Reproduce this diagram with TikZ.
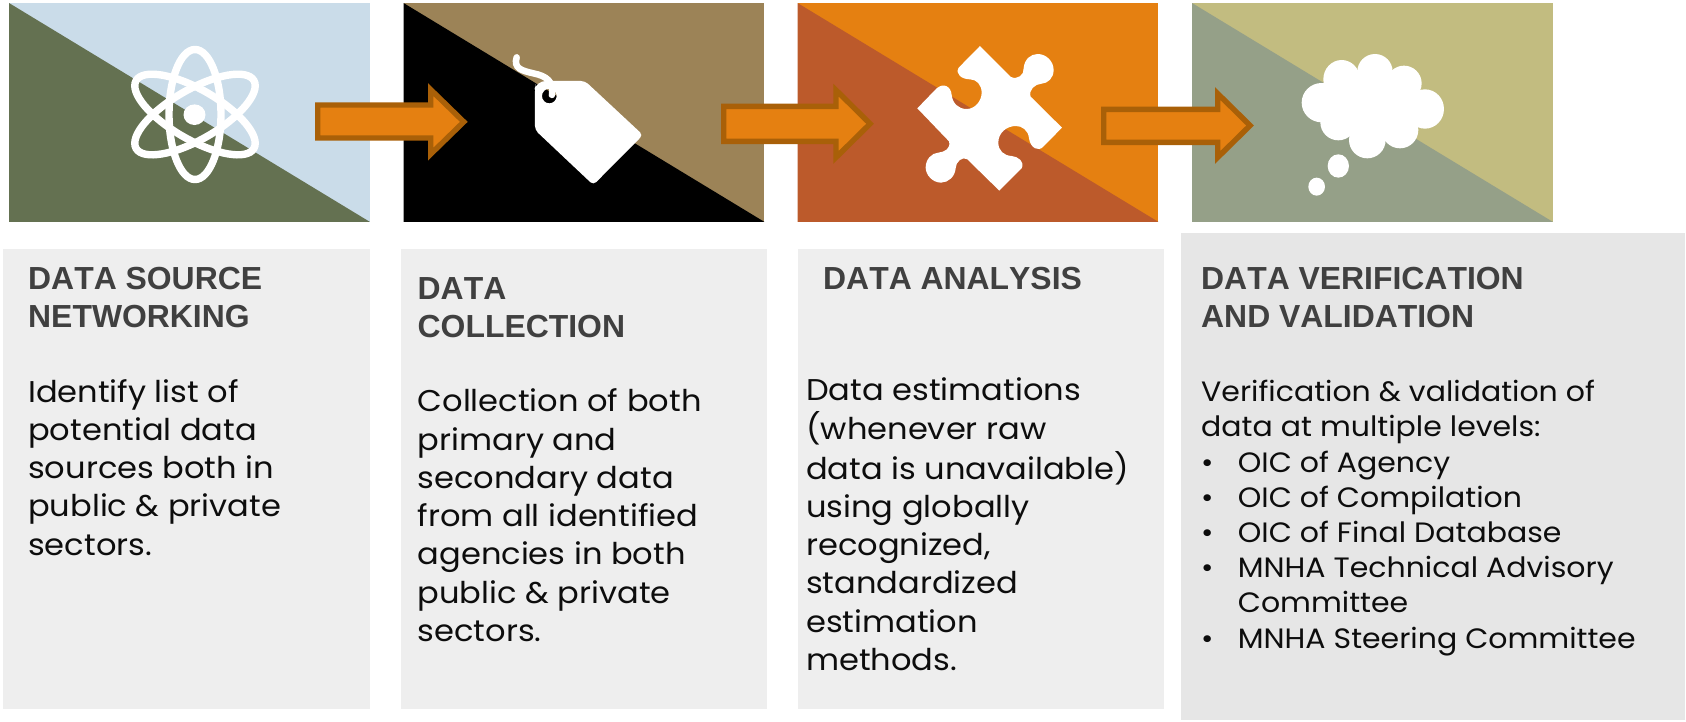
\documentclass[tikz,border=0pt]{standalone}
\usepackage{fontspec}
\setmainfont[FakeStretch=1.07]{Poppins}
\newfontfamily\titlefont[Kerning=Off]{Liberation Sans}
\definecolor{arrowfill}{HTML}{E58011}
\definecolor{arrowline}{HTML}{A96008}
\definecolor{titlegrey}{HTML}{404040}
\definecolor{bodyblack}{HTML}{0D0D0D}
\definecolor{lightA}{HTML}{CADCE9}
\definecolor{darkA}{HTML}{647151}
\definecolor{lightB}{HTML}{9C8357}
\definecolor{darkB}{HTML}{000000}
\definecolor{lightC}{HTML}{E58011}
\definecolor{darkC}{HTML}{BC5A2B}
\definecolor{lightD}{HTML}{C2BC80}
\definecolor{darkD}{HTML}{95A088}
\definecolor{boxgrey}{HTML}{EEEEEE}
\definecolor{boxgreyD}{HTML}{E6E6E6}
\tikzset{
  panel/.style={rectangle,inner sep=0pt,minimum width=360.5pt,minimum height=218.5pt,anchor=north west,fill=#1},
  textbox/.style={rectangle,inner sep=0pt,anchor=north west,fill=#1},
  heading/.style={inner sep=0pt,anchor=base west,text=titlegrey,font=\titlefont\bfseries\fontsize{31.9}{38.9}\selectfont},
  bodytext/.style={inner sep=0pt,anchor=base west,text=bodyblack,font=\fontsize{30}{38.3}\selectfont},
  listtext/.style={inner sep=0pt,anchor=base west,text=bodyblack,font=\fontsize{28}{35.2}\selectfont},
  blockarrow/.style={fill=arrowfill,draw=arrowline,line width=5.4pt,miter limit=10},
  icon/.style={fill=white,draw=none}
}
\newcommand{\blockarrow}[7]{% left, shaft top, shaft bottom, head x, head top, head bottom, tip x (outer edges)
  \pgfmathsetmacro{\mymid}{(#5+#6)/2}
  \draw[blockarrow] ({#1+2.7},{#2+2.7}) -- ({#4+2.7},{#2+2.7}) -- ({#4+2.7},{#5+6.6}) -- ({#7-3.9},\mymid) -- ({#4+2.7},{#6-6.6}) -- ({#4+2.7},{#3-2.7}) -- ({#1+2.7},{#3-2.7}) -- cycle;
}
\newcommand{\diagfill}[2]{\fill[#2] (#1.north west) -- (#1.south east) -- (#1.south west) -- cycle;}
\begin{document}
\begin{tikzpicture}[x=1pt,y=-1pt]
\path[use as bounding box] (0,0) rectangle (1686,721);
% panels
\node[panel=lightA] (panelA) at (9,3) {};
\diagfill{panelA}{darkA}
\node[panel=lightB] (panelB) at (403.5,3) {};
\diagfill{panelB}{darkB}
\node[panel=lightC] (panelC) at (797.5,3) {};
\diagfill{panelC}{darkC}
\node[panel=lightD] (panelD) at (1192,3) {};
\diagfill{panelD}{darkD}
% text boxes
\node[textbox=boxgrey,minimum width=367pt,minimum height=460pt] (boxA) at (3,249) {};
\node[textbox=boxgrey,minimum width=366pt,minimum height=460pt] (boxB) at (401,249) {};
\node[textbox=boxgrey,minimum width=366pt,minimum height=460pt] (boxC) at (798,249) {};
\node[textbox=boxgreyD,minimum width=504pt,minimum height=487pt] (boxD) at (1181,233) {};
% block arrows
\blockarrow{315}{102.3}{140.7}{428}{83}{160.7}{467.7}
\blockarrow{721}{103.7}{144}{833.3}{83.5}{164}{874}
\blockarrow{1101}{106.7}{145}{1215}{87}{164}{1254}
% atom icon
\begin{scope}[line width=7.4pt]
  \draw[white] (195,114.5) ellipse [x radius=26,y radius=65];
  \draw[white,rotate around={60:(195,114.5)}] (195,114.5) ellipse [x radius=25,y radius=68];
  \draw[white,rotate around={-60:(195,114.5)}] (195,114.5) ellipse [x radius=25,y radius=68];
\end{scope}
\fill[white] (194.5,114.7) ellipse [x radius=11,y radius=10.3];
% tag icon
\begin{scope}[xshift=400pt,x=0.3333pt,y=-0.3333pt]
  \draw[white,line width=6.5pt,line cap=round] (350,172) .. controls (340,205) and (365,212) .. (400,220) .. controls (440,228) and (462,245) .. (456,285);
  \fill[icon,even odd rule,rounded corners=4pt] (405,290) -- (405,262) [rounded corners=9pt] -- (410,243) [rounded corners=4pt] -- (555,243) -- (729,405) -- (580,555) -- (405,390) -- cycle
     [sharp corners] (448,288) circle [radius=22];
  \draw[white,line width=4pt] (458,268) -- (452,290);
\end{scope}
% puzzle icon
\begin{scope}[xshift=780pt,x=0.3333pt,y=-0.3333pt]
  \fill[icon] (600,138) -- (693,231) .. controls (712,240) and (733,225) .. (731,205)
    .. controls (733,178) and (752,162) .. (773,162)
    .. controls (800,162) and (821,185) .. (821,210)
    .. controls (821,235) and (803,250) .. (785,251)
    .. controls (765,252) and (745,270) .. (752,290)
    -- (846,383) -- (790,440) .. controls (775,456) and (752,445) .. (747,415)
    .. controls (745,390) and (725,378) .. (708,378)
    .. controls (680,378) and (655,398) .. (655,428)
    .. controls (655,452) and (672,467) .. (695,468)
    .. controls (715,470) and (735,485) .. (725,505)
    -- (658,572) -- (562,478) .. controls (548,468) and (527,485) .. (527,505)
    .. controls (525,530) and (505,548) .. (483,548)
    .. controls (458,548) and (437,525) .. (437,503)
    .. controls (437,478) and (455,459) .. (475,458)
    .. controls (495,456) and (513,445) .. (507,424)
    -- (412,325) -- (470,265) .. controls (490,248) and (513,258) .. (515,285)
    .. controls (518,310) and (535,327) .. (560,327)
    .. controls (585,327) and (605,303) .. (605,278)
    .. controls (605,255) and (590,238) .. (570,238)
    .. controls (545,238) and (525,222) .. (536,203)
    -- cycle;
\end{scope}
% cloud icon
\begin{scope}[xshift=1180pt,x=0.3333pt,y=-0.3333pt]
  \fill[icon] (425,308) ellipse [x radius=60,y radius=59];
  \fill[icon] (485,238) ellipse [x radius=55,y radius=58];
  \fill[icon] (585,215) ellipse [x radius=53,y radius=53];
  \fill[icon] (672,250) ellipse [x radius=53,y radius=53];
  \fill[icon] (735,327) ellipse [x radius=57,y radius=59];
  \fill[icon] (660,390) ellipse [x radius=55,y radius=55];
  \fill[icon] (562,420) ellipse [x radius=55,y radius=55];
  \fill[icon] (475,367) ellipse [x radius=54,y radius=54];
  \fill[icon] (580,320) ellipse [x radius=140,y radius=90];
  \fill[icon] (475,498) ellipse [x radius=32,y radius=35];
  \fill[icon] (410,560) ellipse [x radius=25,y radius=27];
\end{scope}
% headings
\node[heading] (headA) at (28,289) {\begin{tabular}[t]{@{}l@{}}DATA SOURCE\\NETWORKING\end{tabular}};
\node[heading] (headB) at (417.5,299) {\begin{tabular}[t]{@{}l@{}}DATA\\COLLECTION\end{tabular}};
\node[heading] (headC) at (823,289) {DATA ANALYSIS};
\node[heading] (headD) at (1201,289) {\begin{tabular}[t]{@{}l@{}}DATA VERIFICATION\\AND VALIDATION\end{tabular}};
% body text
\node[bodytext] (bodyA) at (28,402) {\begin{tabular}[t]{@{}l@{}}Identify list of\\potential data\\sources both in\\public \& private\\sectors.\end{tabular}};
\node[bodytext] (bodyB) at (417.5,411.7) {\begin{tabular}[t]{@{}l@{}}Collection of both\\primary and\\secondary data\\from all identified\\agencies in both\\public \& private\\sectors.\end{tabular}};
\node[bodytext] (bodyC) at (806,400) {\begin{tabular}[t]{@{}l@{}}Data estimations\\(whenever raw\\data is unavailable)\\using globally\\recognized,\\standardized\\estimation\\methods.\end{tabular}};
\node[listtext] (bodyD) at (1201,401.7) {\begin{tabular}[t]{@{}p{36.7pt}@{}l@{}}\multicolumn{2}{@{}l@{}}{Verification \& validation of}\\\multicolumn{2}{@{}l@{}}{data at multiple levels:}\\•&OIC of Agency\\•&OIC of Compilation\\•&OIC of Final Database\\•&MNHA Technical Advisory\\&Committee\\•&MNHA Steering Committee\end{tabular}};
\end{tikzpicture}
\end{document}
